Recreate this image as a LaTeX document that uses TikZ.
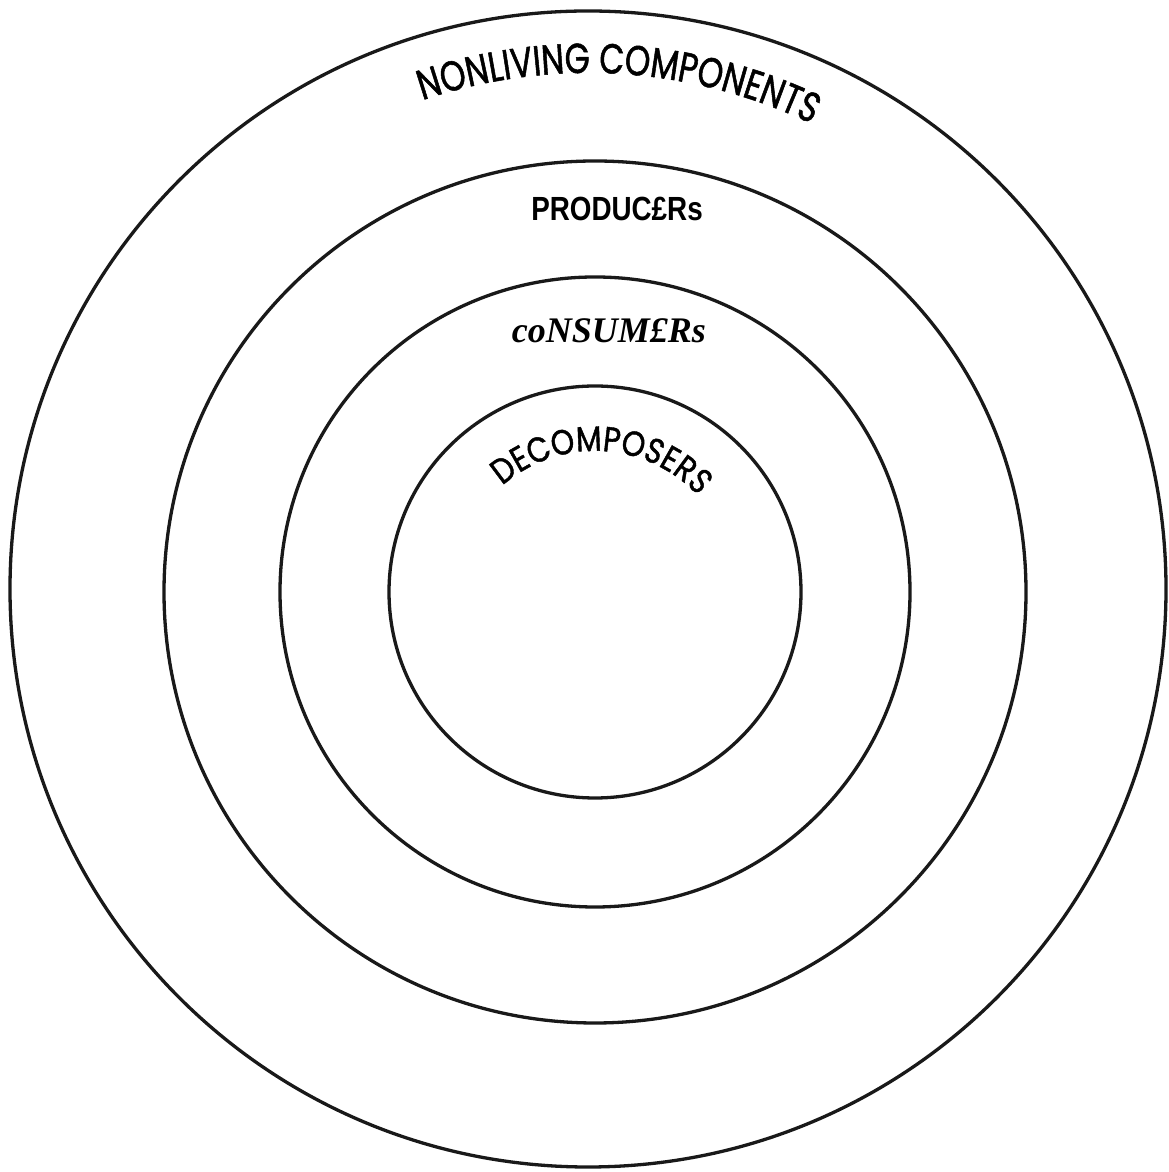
\documentclass[tikz,border=0pt]{standalone}
\usepackage{fontspec}
\usepackage{graphicx}
\usetikzlibrary{decorations.text}
\newfontfamily\geofont[FakeStretch=0.77,FakeBold=1.2]{Poppins}
\newfontfamily\geofontb[FakeStretch=0.85,FakeBold=1.2]{Poppins}
\newfontfamily\prodfont{Liberation Sans}
\newfontfamily\consfont{Liberation Serif}
\tikzset{
  ring/.style={circle, draw=black!90, line width=3.3pt, inner sep=0pt, outer sep=0pt},
}
\begin{document}
\begin{tikzpicture}[x=1pt,y=1pt]
\useasboundingbox[fill=white] (0,0) rectangle (1168,1172);
\coordinate (c1) at (588,583);
\coordinate (c2) at (595,580);
\node[ring, minimum size=1156pt] (outer) at (c1) {};
\node[ring, minimum size=862pt] (producers) at (c2) {};
\node[ring, minimum size=630pt] (consumers) at (c2) {};
\node[ring, minimum size=412pt] (decomposers) at (c2) {};
\path[decorate, decoration={text along path, text align=center,
  text={|\geofont\fontsize{42}{50}\selectfont|NONLIVING COMPONENTS}}]
  (c1) ++(140:516) arc[start angle=140, end angle=33, radius=516];
\path[decorate, decoration={text along path, text align=center,
  text={|\geofontb\fontsize{35}{42}\selectfont|DECOMPOSERS}}]
  (c2) ++(170:141) arc[start angle=170, end angle=4, radius=141];
\node[anchor=base, inner sep=0pt] (prodlabel) at (617,951)
  {\scalebox{0.83}[1]{\prodfont\bfseries\fontsize{33.5}{40}\selectfont PRODUC£Rs}};
\node[anchor=base, inner sep=0pt] (conslabel) at (609,829)
  {\consfont\bfseries\itshape\fontsize{36}{42}\selectfont coNSUM£Rs};
\end{tikzpicture}
\end{document}
